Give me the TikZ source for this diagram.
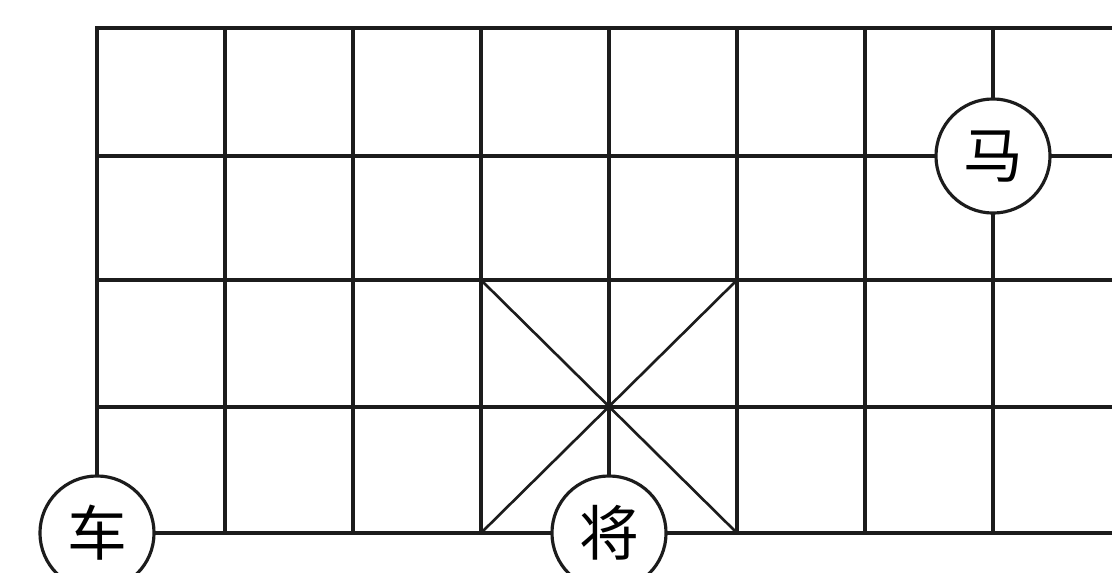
\documentclass[tikz,border=0pt]{standalone}
\usepackage{fontspec}
\newfontfamily\cjkfont{Noto Sans CJK SC}
\usetikzlibrary{positioning}
\definecolor{colLine}{RGB}{28,28,28}
\definecolor{colPiece}{RGB}{255,255,255}
\tikzset{
  % board lines
  gridLine/.style  ={draw=colLine, line width=1.15pt, line cap=rect},
  palaceLine/.style={draw=colLine, line width=0.75pt},
  % pieces
  piece/.style={
    circle, draw=colLine, line width=0.9pt,
    fill=colPiece, inner sep=0pt,
    minimum size=1.14cm,
    font=\cjkfont\fontsize{17}{17}\selectfont,
  },
}
\begin{document}
\begin{tikzpicture}[x=0.01cm, y=-0.01cm]
\useasboundingbox (0,0) rectangle (1112,572);

% ═══════════════════════════════════════════════════════════════════════════
%  BOARD GRID
% ═══════════════════════════════════════════════════════════════════════════
\foreach \row in {28,156,280,407,533}
  \draw[gridLine] (97,\row) -- (1112,\row);
\foreach \col in {97,225,353,481,609,737,865,993}
  \draw[gridLine] (\col,28) -- (\col,533);

% ═══════════════════════════════════════════════════════════════════════════
%  PALACE DIAGONALS
% ═══════════════════════════════════════════════════════════════════════════
\coordinate (palTL) at (481,280);
\coordinate (palTR) at (737,280);
\coordinate (palBL) at (481,533);
\coordinate (palBR) at (737,533);
\draw[palaceLine] (palTL) -- (palBR);
\draw[palaceLine] (palTR) -- (palBL);

% ═══════════════════════════════════════════════════════════════════════════
%  PIECES
% ═══════════════════════════════════════════════════════════════════════════
\node[piece] (che)   at (97,533)  {车};
\node[piece] (jiang) at (609,533) {将};
\node[piece] (ma)    at (993,156) {马};

\end{tikzpicture}
\end{document}
